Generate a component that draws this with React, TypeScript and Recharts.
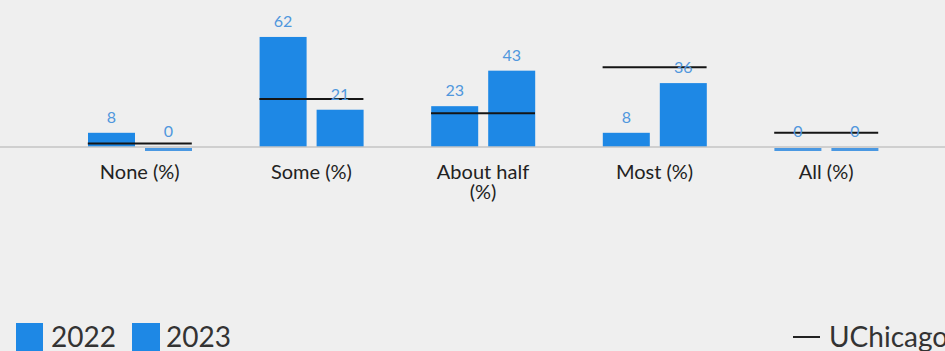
import React from 'react';
import {
  ComposedChart,
  Bar,
  Line,
  XAxis,
  YAxis,
  LabelList,
} from 'recharts';

const categories = ['None (%)', 'Some (%)', 'About half (%)', 'Most (%)', 'All (%)'];
const values2022 = [8, 62, 23, 8, 0];
const values2023 = [0, 21, 43, 36, 0];
const uchicago = [2, 27, 19, 45, 8];

const BAR_BLUE = '#1e88e5';
const LABEL_BLUE = '#5097dd';
const FONT = 'Lato, "Open Sans", sans-serif';

const chartData = categories.map((name, i) => ({
  name,
  y2022: values2022[i],
  y2023: values2023[i],
  uchicago: uchicago[i],
}));

// zero values still get a thin strip just under the axis
const BarShape = (props: any) => {
  const { x, y, width, height, fill } = props;
  if (!height || height < 1) {
    return <rect x={x} y={y + 1} width={width} height={3} fill="#4a98e2" />;
  }
  return <rect x={x} y={y} width={width} height={height} fill={fill} />;
};

// benchmark drawn as a flat segment across both bars of the group
const BenchmarkMark = (props: any) => {
  const { cx, cy, index } = props;
  if (cx == null || cy == null) return null;
  return (
    <line
      key={`bm-${index}`}
      x1={cx - 52}
      x2={cx + 52}
      y1={cy}
      y2={cy}
      stroke="#151515"
      strokeWidth={2}
    />
  );
};

const CategoryTick = (props: any) => {
  const { x, y, payload } = props;
  const label: string = payload.value;
  const lines = label === 'About half (%)' ? ['About half', '(%)'] : [label];
  return (
    <text x={x} y={y} textAnchor="middle" fill="#222" fontSize={20} fontFamily={FONT}>
      {lines.map((l, i) => (
        <tspan key={i} x={x} dy={i === 0 ? 24 : 20}>
          {l}
        </tspan>
      ))}
    </text>
  );
};

const LegendRow = () => (
  <div
    style={{
      position: 'absolute',
      top: 318,
      left: 0,
      width: 945,
      height: 40,
      fontFamily: FONT,
      fontSize: 28,
      color: '#333',
    }}
  >
    <div style={{ position: 'absolute', left: 16, top: 5, width: 27, height: 30, background: BAR_BLUE }} />
    <span style={{ position: 'absolute', left: 51, top: 1, lineHeight: '34px' }}>2022</span>
    <div style={{ position: 'absolute', left: 132, top: 5, width: 28, height: 30, background: BAR_BLUE }} />
    <span style={{ position: 'absolute', left: 166, top: 1, lineHeight: '34px' }}>2023</span>
    <div style={{ position: 'absolute', left: 793, top: 18, width: 27, height: 2, background: '#222' }} />
    <span style={{ position: 'absolute', left: 829, top: 1, lineHeight: '34px', whiteSpace: 'nowrap' }}>
      UChicago
    </span>
  </div>
);

export default function App() {
  return (
    <div
      style={{
        position: 'fixed',
        left: 0,
        top: 0,
        width: 945,
        height: 351,
        background: '#efefef',
        overflow: 'hidden',
      }}
    >
      <ComposedChart
        width={945}
        height={220}
        data={chartData}
        margin={{ top: 5, right: 0, bottom: 0, left: 0 }}
        barCategoryGap={34}
        barGap={10}
      >
        <XAxis
          dataKey="name"
          height={73}
          padding={{ left: 54, right: 33 }}
          axisLine={{ stroke: '#c4c4c4', strokeWidth: 1.5 }}
          tickLine={false}
          tick={<CategoryTick />}
          interval={0}
        />
        <YAxis hide domain={[0, 80]} />
        <Bar dataKey="y2022" fill={BAR_BLUE} shape={<BarShape />} isAnimationActive={false}>
          <LabelList dataKey="y2022" position="top" offset={10} fill={LABEL_BLUE} fontSize={16} fontFamily={FONT} />
        </Bar>
        <Bar dataKey="y2023" fill={BAR_BLUE} shape={<BarShape />} isAnimationActive={false}>
          <LabelList dataKey="y2023" position="top" offset={10} fill={LABEL_BLUE} fontSize={16} fontFamily={FONT} />
        </Bar>
        <Line
          dataKey="uchicago"
          stroke="none"
          dot={<BenchmarkMark />}
          activeDot={false}
          isAnimationActive={false}
        />
      </ComposedChart>
      <LegendRow />
    </div>
  );
}
